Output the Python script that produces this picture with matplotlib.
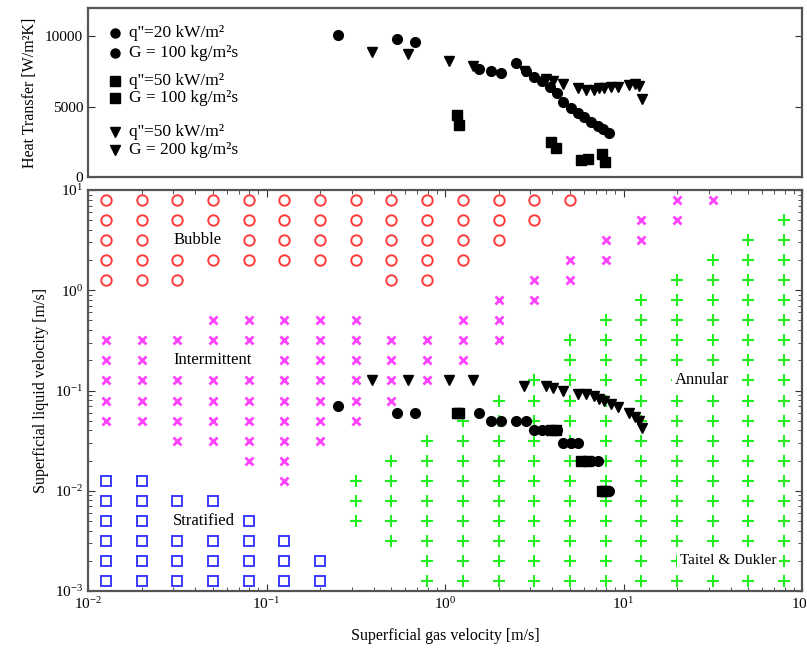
import matplotlib
matplotlib.use("Agg")
import matplotlib.pyplot as plt
from matplotlib.ticker import LogLocator, NullFormatter, FixedLocator

plt.rcParams['font.family'] = ['Liberation Serif', 'DejaVu Serif']
plt.rcParams['mathtext.fontset'] = 'stix'

# ---- flow-pattern map grid (Taitel & Dukler) ----
jg_grid = [0.0126, 0.02, 0.0316, 0.05, 0.0794, 0.126, 0.2, 0.316, 0.5, 0.794,
           1.26, 2.0, 3.16, 5.0, 7.94, 12.6, 20.0, 31.6, 50.0, 79.4]
jl_grid = [7.94, 5.0, 3.16, 2.0, 1.26, 0.794, 0.5, 0.316, 0.2, 0.126,
           0.0794, 0.05, 0.0316, 0.02, 0.0126, 0.00794, 0.005, 0.00316, 0.002, 0.00126]
# B = bubble, I = intermittent, S = stratified, A = annular, . = none
regime_rows = [
    "BBBBBBBBBBBBBB..II..",
    "BBBBBBBBBBBBB..II..A",
    "BBBBBBBBBBBB..II..AA",
    "BBBBBBBBBBB..II..AAA",
    "BBB.....BB..II..AAAA",
    "...........II..AAAAA",
    "...IIIII..II..AAAAAA",
    "IIIIIIIIIIII.AAAAAAA",
    "IIIIIIIIIII..AAAAAAA",
    "IIIIIIIIII..AAAAAAAA",
    "IIIIIIIII..AAAAAAAAA",
    "IIIIIIII..AAAAAAAAAA",
    "..IIIII..AAAAAAAAAAA",
    "....II..AAAAAAAAAAAA",
    "SS...I.AAAAAAAAAAAAA",
    "SSSS...AAAAAAAAAAAAA",
    "SSSSS..AAAAAAAAAAAAA",
    "SSSSSS..AAAAAAAAAAAA",
    "SSSSSSS..AAAAAAAAAAA",
    "SSSSSSS..AAAAAAAAAAA",
]

# ---- experimental series ----
# q''=20 kW/m2, G=100 kg/m2s
q20_jg = [0.25, 0.54, 0.68, 1.55, 1.81, 2.06, 2.5, 2.85, 3.16, 3.5,
          3.89, 4.26, 4.6, 5.1, 5.59, 6.04, 6.61, 7.24, 7.72, 8.34]
q20_jl = [0.07, 0.06, 0.06, 0.06, 0.05, 0.05, 0.05, 0.05, 0.04, 0.04,
          0.04, 0.04, 0.03, 0.03, 0.03, 0.02, 0.02, 0.02, 0.01, 0.01]
q20_h = [10070, 9790, 9570, 7640, 7500, 7360, 8070, 7500, 7070, 6790,
         6360, 6000, 5290, 4930, 4570, 4290, 3930, 3640, 3430, 3140]
# q''=50 kW/m2, G=100 kg/m2s
q50_jg = [1.17, 1.2, 3.9, 4.2, 5.8, 6.3, 7.6, 7.9]
q50_jl = [0.06, 0.06, 0.04, 0.04, 0.02, 0.02, 0.01, 0.01]
q50_h = [4430, 3710, 2500, 2070, 1210, 1290, 1640, 1070]
# q''=50 kW/m2, G=200 kg/m2s
g200_jg = [0.39, 0.62, 1.05, 1.44, 2.78, 3.7, 4.04, 4.6, 5.59, 6.2,
           6.87, 7.33, 7.82, 8.56, 9.37, 10.67, 11.53, 12.14, 12.62]
g200_jl = [0.126, 0.126, 0.126, 0.126, 0.112, 0.112, 0.107, 0.098, 0.093, 0.093,
           0.089, 0.083, 0.079, 0.074, 0.068, 0.06, 0.054, 0.05, 0.042]
g200_h = [8860, 8710, 8210, 7860, 7500, 6930, 6790, 6570, 6290, 6210,
          6210, 6290, 6290, 6360, 6360, 6500, 6570, 6430, 5570]

legend_labels = ["q''=20 kW/m\u00b2", "G = 100 kg/m\u00b2s",
                 "q''=50 kW/m\u00b2", "G = 100 kg/m\u00b2s",
                 "q''=50 kW/m\u00b2", "G = 200 kg/m\u00b2s"]

W, H = 807, 649
fig = plt.figure(figsize=(W / 100, H / 100), dpi=100)

def box(l, t, r, b):
    return [l / W, 1 - b / H, (r - l) / W, (b - t) / H]

ax1 = fig.add_axes(box(88, 8, 802, 177))
ax2 = fig.add_axes(box(88, 190, 802, 591))

spine_c = '#555555'
for ax in (ax1, ax2):
    for s in ax.spines.values():
        s.set_color(spine_c)
        s.set_linewidth(1.6)
    ax.set_xscale('log')
    ax.set_xlim(0.01, 100)

# ---- top panel ----
ax1.set_ylim(0, 12000)
ax1.yaxis.set_major_locator(FixedLocator([0, 5000, 10000]))
ax1.tick_params(axis='y', which='both', direction='in', left=True, right=True,
                length=5, color='#333333', labelsize=11)
ax1.tick_params(axis='x', which='both', bottom=False, top=False, labelbottom=False)
ax1.set_ylabel("Heat Transfer [W/m\u00b2K]", fontsize=11.5, labelpad=5)

ax1.plot(q20_jg, q20_h, 'o', color='black', ms=7, ls='none')
ax1.plot(q50_jg, q50_h, 's', color='black', ms=6.5, ls='none')
ax1.plot(g200_jg, g200_h, 'v', color='black', ms=6.5, ls='none')

leg_markers = ['o', 'o', 's', 's', 'v', 'v']
leg_y = [0.852, 0.734, 0.568, 0.467, 0.266, 0.160]
for m, yy, lab in zip(leg_markers, leg_y, legend_labels):
    ax1.plot([0.038], [yy], m, color='black', ms=6.5, transform=ax1.transAxes)
    ax1.text(0.057, yy, lab, transform=ax1.transAxes, fontsize=12.5, va='center', ha='left')

# ---- bottom panel ----
ax2.set_yscale('log')
ax2.set_ylim(0.001, 10)
ax2.tick_params(which='both', direction='in', top=True, right=True, color='#333333',
                labelsize=11)
ax2.tick_params(which='major', length=5)
ax2.tick_params(which='minor', length=3)
ax2.xaxis.set_minor_locator(LogLocator(base=10, subs=range(2, 10)))
ax2.yaxis.set_minor_locator(LogLocator(base=10, subs=range(2, 10)))
ax2.xaxis.set_minor_formatter(NullFormatter())
ax2.yaxis.set_minor_formatter(NullFormatter())

styles = {
    'B': dict(marker='o', mfc='none', mec='#ff3b3b', ms=7.5, mew=1.4),
    'I': dict(marker='x', color='#ff44ff', ms=5.5, mew=2.0),
    'S': dict(marker='s', mfc='none', mec='#3a3aff', ms=7, mew=1.4),
    'A': dict(marker='+', color='#22ee22', ms=8.5, mew=1.5),
}
for code, st in styles.items():
    xs, ys = [], []
    for row, jl in zip(regime_rows, jl_grid):
        for ch, jg in zip(row, jg_grid):
            if ch == code:
                xs.append(jg)
                ys.append(jl)
    ax2.plot(xs, ys, ls='none', zorder=2, **st)

ax2.plot(q20_jg, q20_jl, 'o', color='black', ms=7, ls='none', zorder=4)
ax2.plot(q50_jg, q50_jl, 's', color='black', ms=6.5, ls='none', zorder=4)
ax2.plot(g200_jg, g200_jl, 'v', color='black', ms=6.5, ls='none', zorder=4)

bb = dict(facecolor='white', edgecolor='none', pad=2.0)
for x, y, t, fs in [(0.030, 3.16, 'Bubble', 12), (0.030, 0.2, 'Intermittent', 12),
                    (0.030, 0.005, 'Stratified', 12), (19.3, 0.126, 'Annular', 12),
                    (20.6, 0.002, 'Taitel & Dukler', 11)]:
    ax2.text(x, y, t, fontsize=fs, ha='left', va='center', bbox=bb, zorder=5)

ax2.set_xlabel("Superficial gas velocity [m/s]", fontsize=11.5, labelpad=12)
ax2.set_ylabel("Superficial liquid velocity [m/s]", fontsize=11.5, labelpad=4)

fig.savefig("out.png", dpi=100)
